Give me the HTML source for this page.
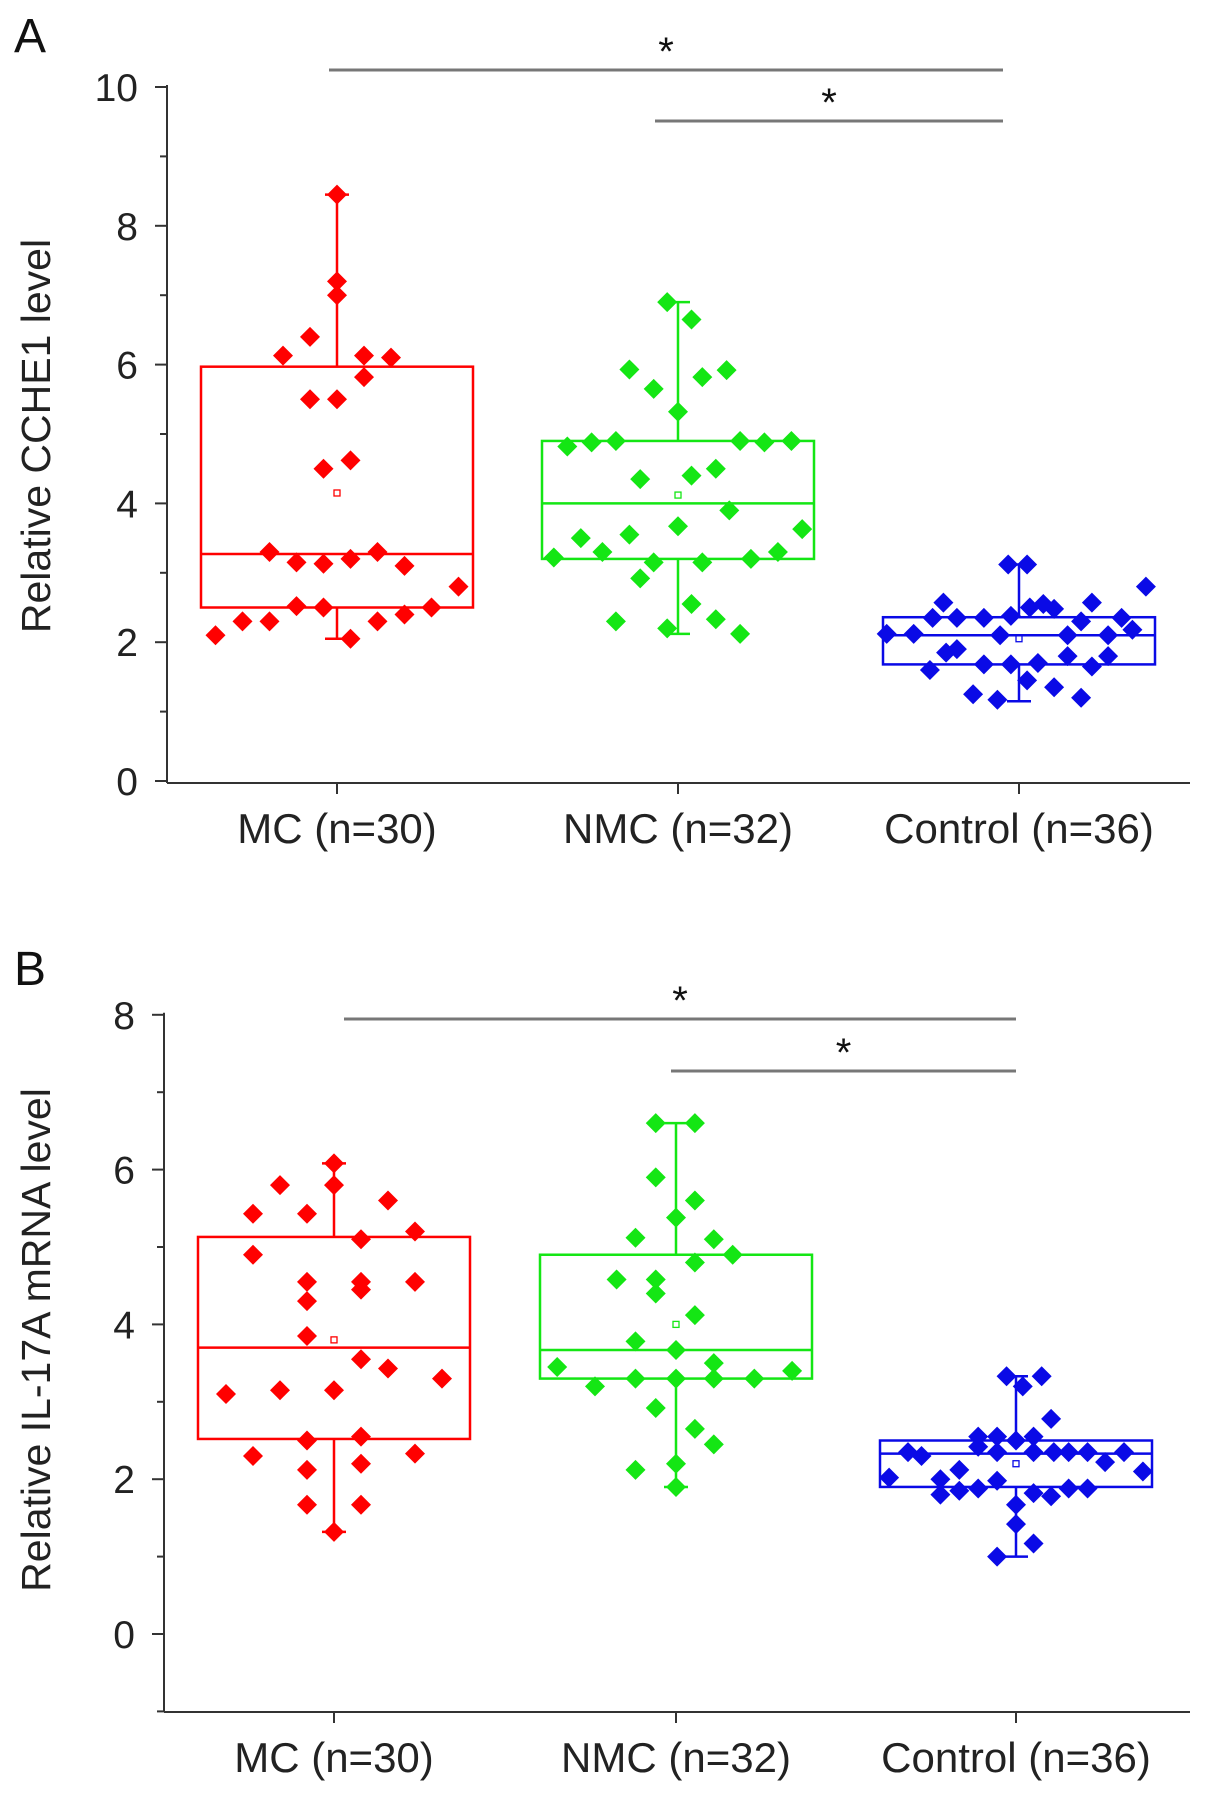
<!DOCTYPE html>
<html><head><meta charset="utf-8"><style>
body{margin:0;background:#fff;}
svg{display:block;font-family:"Liberation Sans",sans-serif;}
</style></head><body>
<svg id="c" width="1205" height="1806" viewBox="0 0 1205 1806"></svg>
<script>
const categories=["MC (n=30)","NMC (n=32)","Control (n=36)"];
const colors=["#ff0000","#14e614","#0a0ae6"];
// Panel boxes: [q1,median,q3,whiskerLow,whiskerHigh,mean]
const boxesA=[[2.5,3.27,5.97,2.05,8.45,4.15],[3.2,4.0,4.9,2.12,6.9,4.12],[1.68,2.1,2.36,1.15,3.12,2.05]];
const boxesB=[[2.52,3.7,5.13,1.32,6.08,3.8],[3.3,3.67,4.9,1.9,6.6,4.0],[1.9,2.33,2.5,1.0,3.33,2.2]];
// points: [slot, value]
const ptsA_MC=[[0,8.45],[0,7.2],[0,7.0],[-2,6.13],[-1,6.4],[1,6.13],[2,6.1],[1,5.82],[-1,5.5],[0,5.5],[-0.5,4.5],[0.5,4.62],[-2.5,3.3],[-1.5,3.15],[-0.5,3.13],[0.5,3.2],[1.5,3.3],[2.5,3.1],[4.5,2.8],[-1.5,2.52],[-0.5,2.5],[3.5,2.5],[2.5,2.4],[1.5,2.3],[-4.5,2.1],[-3.5,2.3],[-2.5,2.3],[0.5,2.05]];
const ptsA_NMC=[[-0.4,6.9],[0.5,6.65],[-1.8,5.93],[-0.9,5.65],[0.9,5.82],[1.8,5.92],[0,5.32],[-4.1,4.82],[-3.2,4.88],[-2.3,4.9],[2.3,4.9],[3.2,4.88],[4.2,4.9],[-1.4,4.35],[0.5,4.4],[1.4,4.5],[1.9,3.9],[0,3.67],[4.6,3.63],[-3.6,3.5],[-1.8,3.55],[-2.8,3.3],[-4.6,3.22],[-0.9,3.15],[0.9,3.15],[2.7,3.2],[3.7,3.3],[-1.4,2.92],[0.5,2.55],[-2.3,2.3],[1.4,2.33],[-0.4,2.2],[2.3,2.12]];
const ptsA_CT=[[-0.4,3.12],[0.3,3.12],[-2.8,2.57],[-3.2,2.35],[-2.3,2.35],[-1.3,2.35],[-0.3,2.38],[0.4,2.5],[0.9,2.55],[1.3,2.48],[2.7,2.57],[3.8,2.35],[2.3,2.3],[4.7,2.8],[4.2,2.18],[-4.9,2.12],[-3.9,2.12],[-0.7,2.1],[1.8,2.1],[3.3,2.1],[-2.7,1.85],[-2.3,1.9],[-3.3,1.6],[-1.3,1.68],[-0.3,1.68],[0.7,1.7],[1.8,1.8],[2.7,1.65],[3.3,1.8],[-1.7,1.25],[-0.8,1.17],[0.3,1.45],[1.3,1.35],[2.3,1.2]];
const ptsB_MC=[[0,6.08],[0,5.8],[-2,5.8],[-3,5.43],[-1,5.43],[2,5.6],[-3,4.9],[1,5.1],[3,5.2],[-1,4.55],[1,4.55],[1,4.45],[3,4.55],[-1,4.3],[-1,3.85],[1,3.55],[2,3.43],[-4,3.1],[-2,3.15],[0,3.15],[4,3.3],[-1,2.5],[1,2.55],[-3,2.3],[3,2.33],[-1,2.12],[1,2.2],[-1,1.67],[1,1.67],[0,1.32]];
const ptsB_NMC=[[-0.75,6.6],[0.7,6.6],[-0.75,5.9],[0.7,5.6],[0,5.38],[-1.5,5.12],[1.4,5.1],[2.1,4.9],[0.7,4.8],[-2.2,4.58],[-0.75,4.58],[-0.75,4.4],[0.7,4.12],[-1.5,3.78],[0,3.67],[-4.4,3.45],[1.4,3.5],[4.3,3.4],[-3,3.2],[-1.5,3.3],[0,3.3],[1.4,3.3],[2.9,3.3],[-0.75,2.92],[0.7,2.65],[1.4,2.45],[-1.5,2.12],[0,2.2],[0,1.9]];
const ptsB_CT=[[-0.35,3.33],[0.95,3.33],[0.25,3.2],[1.3,2.78],[-1.4,2.55],[-0.7,2.55],[0,2.5],[0.65,2.55],[-1.4,2.42],[-4,2.35],[-3.5,2.3],[-0.7,2.35],[0.65,2.35],[1.4,2.35],[1.95,2.35],[2.65,2.35],[4,2.35],[3.3,2.22],[-4.7,2.02],[-2.1,2.12],[-2.8,2.0],[-0.7,1.98],[4.7,2.1],[-2.8,1.8],[-2.1,1.85],[-1.4,1.88],[0.65,1.82],[1.3,1.78],[1.95,1.88],[2.65,1.88],[0,1.67],[0,1.42],[0.65,1.17],[-0.7,1.0]];
const ticksA=[0,2,4,6,8,10];
const ticksB=[0,2,4,6,8];

const NS="http://www.w3.org/2000/svg";
const svg=document.getElementById('c');
function mk(tag,attrs,parent){const e=document.createElementNS(NS,tag);for(const k in attrs)e.setAttribute(k,attrs[k]);(parent||svg).appendChild(e);return e;}

function panel(o){
  const g=mk('g',{});
  
  
  const y=v=>o.y0-(v)*o.k;
  const x=i=>o.cx[i];
  const SL=27;
  const ya=mk('line',{x1:o.ax,y1:y(o.ymax)-2,x2:o.ax,y2:o.axisY,stroke:'#333','stroke-width':2},g);
  
  const xa=mk('line',{x1:o.ax,y1:o.axisY,x2:1190,y2:o.axisY,stroke:'#333','stroke-width':2},g);
  
  for(let v=o.ymin;v<=o.ymax;v++){
    const maj=(v%2===0);
    mk('line',{x1:o.ax-(maj?12:7),y1:y(v),x2:o.ax,y2:y(v),stroke:'#333','stroke-width':2},g);
  }
  o.ticks.forEach(t=>{const tx=mk('text',{x:o.ax-29,y:y(t)+14,'text-anchor':'end','font-size':39,fill:'#222'},g);tx.textContent=t;
    });
  categories.forEach((c,i)=>{
    mk('line',{x1:x(i),y1:o.axisY,x2:x(i),y2:o.axisY+11,stroke:'#333','stroke-width':2},g);
    const t=mk('text',{x:x(i),y:o.axisY+60,'text-anchor':'middle','font-size':42,fill:'#222'},g);t.textContent=c;
    
  });
  const yt=mk('text',{x:0,y:0,transform:`translate(50,${o.titleY}) rotate(-90)`,'text-anchor':'middle','font-size':41,fill:'#222'},g);
  yt.textContent=o.title;
  const pl=mk('text',{x:14,y:o.letterY,'font-size':48,fill:'#111'},g);pl.textContent=o.letter;
  
  o.boxes.forEach((b,i)=>{
    const col=colors[i],hw=136,cx=x(i);
    const bg=mk('g',{stroke:col,'stroke-width':2.5,fill:'none'},g);
    
    mk('line',{x1:cx,y1:y(b[4]),x2:cx,y2:y(b[2])},bg);
    mk('line',{x1:cx,y1:y(b[3]),x2:cx,y2:y(b[0])},bg);
    mk('line',{x1:cx-12,y1:y(b[4]),x2:cx+12,y2:y(b[4])},bg);
    mk('line',{x1:cx-12,y1:y(b[3]),x2:cx+12,y2:y(b[3])},bg);
    mk('rect',{x:cx-hw,y:y(b[2]),width:2*hw,height:y(b[0])-y(b[2])},bg);
    mk('line',{x1:cx-hw,y1:y(b[1]),x2:cx+hw,y2:y(b[1])},bg);
    mk('rect',{x:cx-3,y:y(b[5])-3,width:6,height:6,'stroke-width':1.3},bg);
  });
  o.pts.forEach((arr,i)=>{
    arr.forEach(p=>{
      const px=x(i)+p[0]*SL,py=y(p[1]),r=10;
      const d=mk('polygon',{points:`${px},${py-r} ${px+r},${py} ${px},${py+r} ${px-r},${py}`,fill:colors[i]},g);
      
    });
  });
  o.sig.forEach(s=>{
    const l=mk('line',{x1:s[0],y1:s[2],x2:s[1],y2:s[2],stroke:'#777','stroke-width':3},g);
    
    const a=mk('text',{x:(s[0]+s[1])/2,y:s[2]-5,'text-anchor':'middle','font-size':40,fill:'#111'},g);a.textContent='*';
    
  });
}
panel({name:'panel-a',letter:'A',letterY:52,title:'Relative CCHE1 level',titleY:436,ax:167,y0:781,k:69.4,ymin:0,ymax:10,axisY:783,
  ticks:ticksA,cx:[337,678,1019],boxes:boxesA,pts:[ptsA_MC,ptsA_NMC,ptsA_CT],
  sig:[[329,1003,70],[655,1003,121]]});
panel({name:'panel-b',letter:'B',letterY:985,title:'Relative IL-17A mRNA level',titleY:1340,ax:164,y0:1634,k:77.4,ymin:-1,ymax:8,axisY:1712,
  ticks:ticksB,cx:[334,676,1016],boxes:boxesB,pts:[ptsB_MC,ptsB_NMC,ptsB_CT],
  sig:[[344,1016,1019],[671,1016,1071]]});
</script>
</body></html>
